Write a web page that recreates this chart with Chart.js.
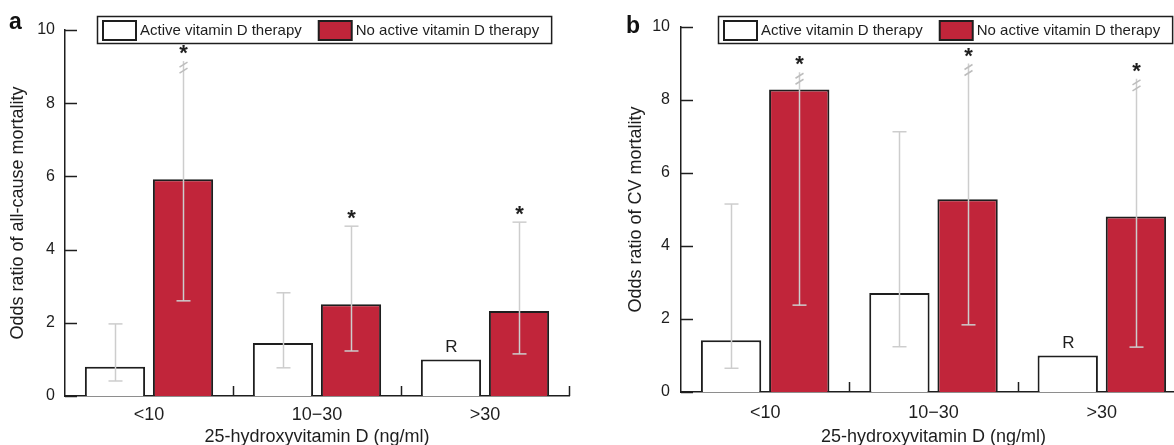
<!DOCTYPE html>
<html>
<head>
<meta charset="utf-8">
<script src="https://cdn.jsdelivr.net/npm/chart.js@4.4.1/dist/chart.umd.min.js"></script>
<style>
html, body { margin: 0; padding: 0; background: #fff; overflow: hidden; width: 1174px; height: 445px; }
#wrapA { position: absolute; left: 0; top: 0; width: 590px; height: 445px; }
#wrapB { position: absolute; left: 590px; top: 0; width: 620px; height: 445px; }
</style>
</head>
<body>
<div id="wrapA"><canvas id="chartA" width="590" height="445"></canvas></div>
<div id="wrapB"><canvas id="chartB" width="620" height="445"></canvas></div>
<script>
var categories = ['<10', '10\u221230', '>30'];
var seriesNames = ['Active vitamin D therapy', 'No active vitamin D therapy'];
var yTicks = [0, 2, 4, 6, 8, 10];

// panel a - all-cause mortality
var aActive = [0.8, 1.45, 1.0];
var aActiveLo = [0.41, 0.77, null];
var aActiveHi = [1.97, 2.82, null];
var aActiveRef = [false, false, true];
var aNoActive = [5.92, 2.51, 2.32];
var aNoActiveLo = [2.6, 1.23, 1.15];
var aNoActiveHi = [9.15, 4.64, 4.75];
var aNoActiveCut = [true, false, false];
var aNoActiveSig = [true, true, true];

// panel b - CV mortality
var bActive = [1.42, 2.71, 1.0];
var bActiveLo = [0.65, 1.24, null];
var bActiveHi = [5.15, 7.13, null];
var bActiveRef = [false, false, true];
var bNoActive = [8.29, 5.28, 4.81];
var bNoActiveLo = [2.38, 1.84, 1.23];
var bNoActiveHi = [8.76, 9.0, 8.58];
var bNoActiveCut = [true, true, true];
var bNoActiveSig = [true, true, true];

var FONT = "'Liberation Sans', Arial, sans-serif";
var INK = '#1e1e1e';
var RED = '#c1253a';

function seg(ctx, x1, y1, x2, y2) {
	ctx.beginPath();
	ctx.moveTo(x1, y1);
	ctx.lineTo(x2, y2);
	ctx.stroke();
}

var decor = {
	id: 'decor',
	afterDatasetsDraw: function (chart, args, opts) {
		var ctx = chart.ctx, area = chart.chartArea, y = chart.scales.y;
		ctx.save();

		// inward y ticks
		ctx.strokeStyle = INK;
		ctx.lineWidth = 1.5;
		yTicks.forEach(function (v) {
			var py = Math.round(y.getPixelForValue(v)) + 0.5;
			seg(ctx, area.left, py, area.left + 12, py);
		});

		// category dividers on the x axis
		var n = chart.data.labels.length, w = (area.right - area.left) / n;
		for (var i = 1; i <= n; i++) {
			var px = Math.round(area.left + i * w) + 0.5;
			seg(ctx, px, area.bottom, px, area.bottom - 10);
		}

		// error bars, stars, reference mark
		chart.data.datasets.forEach(function (ds, di) {
			var meta = chart.getDatasetMeta(di);
			meta.data.forEach(function (bar, j) {
				var cx = Math.round(bar.x) + 0.5;
				if (ds.errLo && ds.errLo[j] != null) {
					var pLo = y.getPixelForValue(ds.errLo[j]);
					var pHi = y.getPixelForValue(ds.errHi[j]);
					ctx.strokeStyle = '#cdcdcd';
					ctx.lineWidth = 1.5;
					seg(ctx, cx, pLo, cx, pHi);
					seg(ctx, cx - 7, pLo, cx + 7, pLo);
					if (ds.errCut && ds.errCut[j]) {
						ctx.strokeStyle = '#bdbdbd';
						seg(ctx, cx - 4, pHi + 6, cx + 4, pHi + 1);
						seg(ctx, cx - 4, pHi + 12, cx + 4, pHi + 7);
					} else {
						seg(ctx, cx - 7, pHi, cx + 7, pHi);
					}
					if (ds.sig && ds.sig[j]) {
						ctx.fillStyle = INK;
						ctx.font = 'bold 22px ' + FONT;
						ctx.textAlign = 'center';
						ctx.textBaseline = 'alphabetic';
						ctx.fillText('*', cx, pHi - 13 + 12);
					}
				}
				if (ds.refMark && ds.refMark[j]) {
					ctx.fillStyle = INK;
					ctx.font = '17px ' + FONT;
					ctx.textAlign = 'center';
					ctx.textBaseline = 'middle';
					ctx.fillText('R', cx, bar.y - 12);
				}
			});
		});

		// boxed legend
		ctx.font = '15px ' + FONT;
		ctx.textAlign = 'left';
		ctx.textBaseline = 'middle';
		var lx = area.left + opts.legendDx, ly = 16, lh = 27;
		var cursor = lx + 6;
		chart.data.datasets.forEach(function (ds, di) {
			ctx.fillStyle = ds.backgroundColor;
			ctx.fillRect(cursor, ly + 5, 33, 19);
			ctx.strokeStyle = INK;
			ctx.lineWidth = 2;
			ctx.strokeRect(cursor, ly + 5, 33, 19);
			ctx.fillStyle = INK;
			ctx.fillText(ds.label, cursor + 37, ly + lh / 2 + 1);
			cursor += 37 + ctx.measureText(ds.label).width + (di === 0 ? 17 : 12);
		});
		ctx.strokeStyle = INK;
		ctx.lineWidth = 1.5;
		ctx.strokeRect(lx + 0.5, ly + 0.5, cursor - lx, lh);

		// panel letter
		ctx.fillStyle = '#111';
		ctx.font = 'bold 23px ' + FONT;
		ctx.textAlign = 'left';
		ctx.textBaseline = 'alphabetic';
		ctx.fillText(opts.letter, opts.letterX, opts.letterY);

		ctx.restore();
	}
};

function makeConfig(p) {
	return {
		type: 'bar',
		data: {
			labels: categories,
			datasets: [{
				label: seriesNames[0],
				data: p.active,
				errLo: p.activeLo,
				errHi: p.activeHi,
				refMark: p.activeRef,
				backgroundColor: '#ffffff',
				borderColor: INK,
				borderWidth: 2,
				borderSkipped: 'bottom'
			}, {
				label: seriesNames[1],
				data: p.noActive,
				errLo: p.noActiveLo,
				errHi: p.noActiveHi,
				errCut: p.noActiveCut,
				sig: p.noActiveSig,
				backgroundColor: RED,
				borderColor: INK,
				borderWidth: 2,
				borderSkipped: 'bottom'
			}]
		},
		options: {
			responsive: false,
			animation: false,
			categoryPercentage: 0.81,
			barPercentage: 0.885,
			layout: {
				padding: { left: 0, right: p.padRight, top: p.padTop, bottom: 0 }
			},
			plugins: {
				legend: { display: false },
				tooltip: { enabled: false },
				decor: { letter: p.letter, letterX: p.letterX, letterY: p.letterY, legendDx: p.legendDx }
			},
			scales: {
				x: {
					offset: true,
					grid: { display: false, drawTicks: false },
					border: { display: true, color: INK, width: 1.5 },
					ticks: { color: INK, padding: p.xPad, font: { family: FONT, size: 18 } },
					title: {
						display: true,
						text: '25-hydroxyvitamin D (ng/ml)',
						color: INK,
						padding: { top: 0, bottom: 0 },
						font: { family: FONT, size: 18, lineHeight: 0.9 }
					},
					afterFit: function (scale) { scale.height = p.xHeight; }
				},
				y: {
					min: 0,
					max: 10,
					ticks: { stepSize: 2, color: INK, padding: p.yPad, font: { family: FONT, size: 16 } },
					grid: { display: false, drawTicks: false },
					border: { display: true, color: INK, width: 1.5 },
					title: {
						display: true,
						text: p.yTitle,
						color: INK,
						padding: { top: p.yTitlePad, bottom: 0 },
						font: { family: FONT, size: 18, lineHeight: 1 }
					},
					afterFit: function (scale) { scale.width = p.yWidth; }
				}
			}
		},
		plugins: [decor]
	};
}

var chartA = new Chart(document.getElementById('chartA'), makeConfig({
	active: aActive, activeLo: aActiveLo, activeHi: aActiveHi, activeRef: aActiveRef,
	noActive: aNoActive, noActiveLo: aNoActiveLo, noActiveHi: aNoActiveHi,
	noActiveCut: aNoActiveCut, noActiveSig: aNoActiveSig,
	yTitle: 'Odds ratio of all-cause mortality',
	yWidth: 65, padTop: 30, padRight: 21, xHeight: 49,
	xPad: 8, yPad: 10, yTitlePad: 9,
	letter: 'a', letterX: 9, letterY: 29, legendDx: 32
}));

var chartB = new Chart(document.getElementById('chartB'), makeConfig({
	active: bActive, activeLo: bActiveLo, activeHi: bActiveHi, activeRef: bActiveRef,
	noActive: bNoActive, noActiveLo: bNoActiveLo, noActiveHi: bNoActiveHi,
	noActiveCut: bNoActiveCut, noActiveSig: bNoActiveSig,
	yTitle: 'Odds ratio of CV mortality',
	yWidth: 91, padTop: 27, padRight: 24, xHeight: 53,
	xPad: 10, yPad: 11, yTitlePad: 37,
	letter: 'b', letterX: 36, letterY: 33, legendDx: 37
}));
</script>
</body>
</html>
